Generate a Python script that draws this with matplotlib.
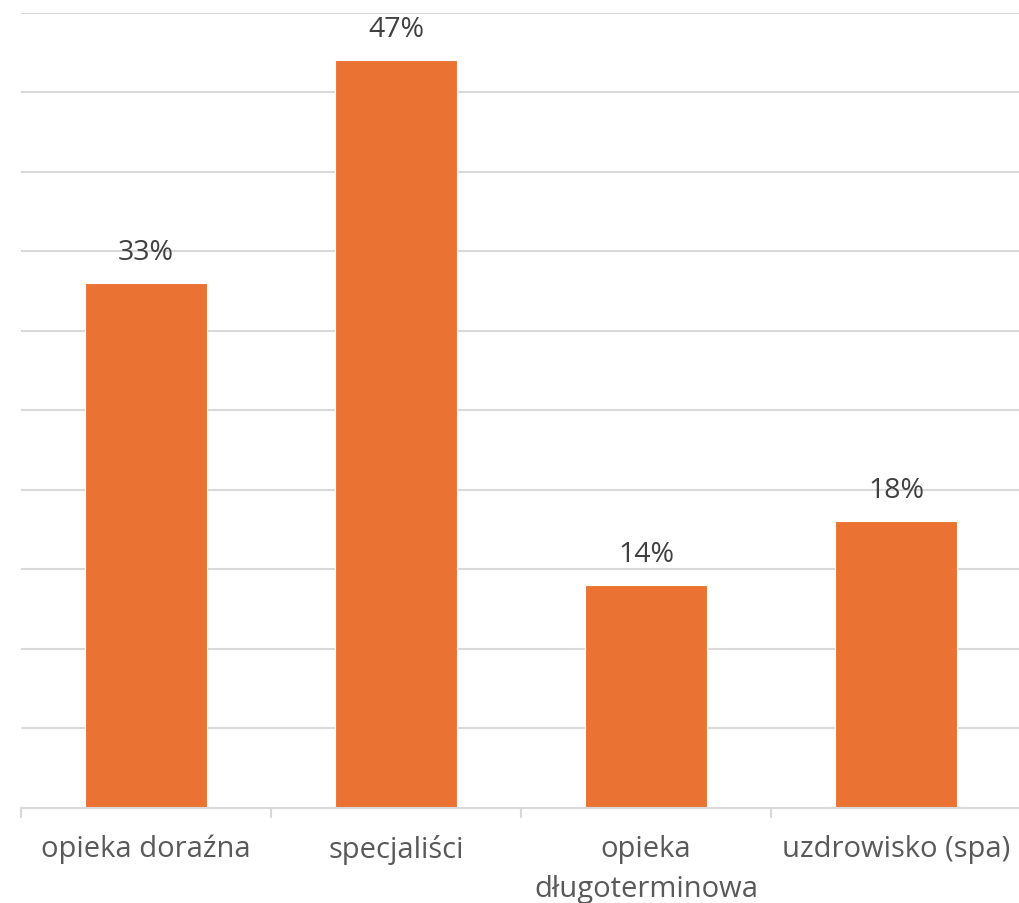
import matplotlib
matplotlib.use("Agg")
import matplotlib.pyplot as plt
import numpy as np

categories = ["opieka doraźna", "specjaliści", "opieka\ndługoterminowa", "uzdrowisko (spa)"]
values = [33, 47, 14, 18]
value_labels = ["33%", "47%", "14%", "18%"]

plt.rcParams['font.family'] = ['Open Sans', 'DejaVu Sans']

W, H = 1019, 904
fig = plt.figure(figsize=(W / 100, H / 100), dpi=100)
left, right = 21 / W, 1021 / W
bottom, top = (H - 808.5) / H, (H - 13.5) / H
ax = fig.add_axes([left, bottom, right - left, top - bottom])

x = np.arange(len(categories))
bars = ax.bar(x, values, width=0.485, color="#EA7232", edgecolor="white", linewidth=0.8, zorder=3)

ax.set_xlim(-0.5, len(categories) - 0.5)
ax.set_ylim(0, 50)
ax.set_yticks(np.arange(0, 51, 5))
ax.yaxis.grid(True, color="#D9D9D9", linewidth=1.5, zorder=0)
ax.tick_params(axis="y", left=False, labelleft=False)

for s in ["top", "right", "left"]:
    ax.spines[s].set_visible(False)
ax.spines["bottom"].set_color("#D9D9D9")
ax.spines["bottom"].set_linewidth(1.5)
ax.spines["bottom"].set_zorder(4)

# category boundary ticks
ax.set_xticks(np.arange(-0.5, len(categories) + 0.5, 1.0))
ax.tick_params(axis="x", which="major", length=7, width=1.5, color="#D9D9D9", labelbottom=False)
ax.set_xticks(x, minor=True)
ax.set_xticklabels(categories, minor=True)
ax.tick_params(axis="x", which="minor", length=0, pad=19, labelsize=21, labelcolor="#595959")
for lbl in ax.get_xticklabels(minor=True):
    lbl.set_linespacing(1.5)
    lbl.set_verticalalignment("top")

for b, lab in zip(bars, value_labels):
    ax.annotate(lab, (b.get_x() + b.get_width() / 2, b.get_height()),
                xytext=(0, 17.3), textcoords="offset points", ha="center", va="baseline",
                fontsize=20.5, color="#404040")

fig.savefig("out.png", dpi=100)
